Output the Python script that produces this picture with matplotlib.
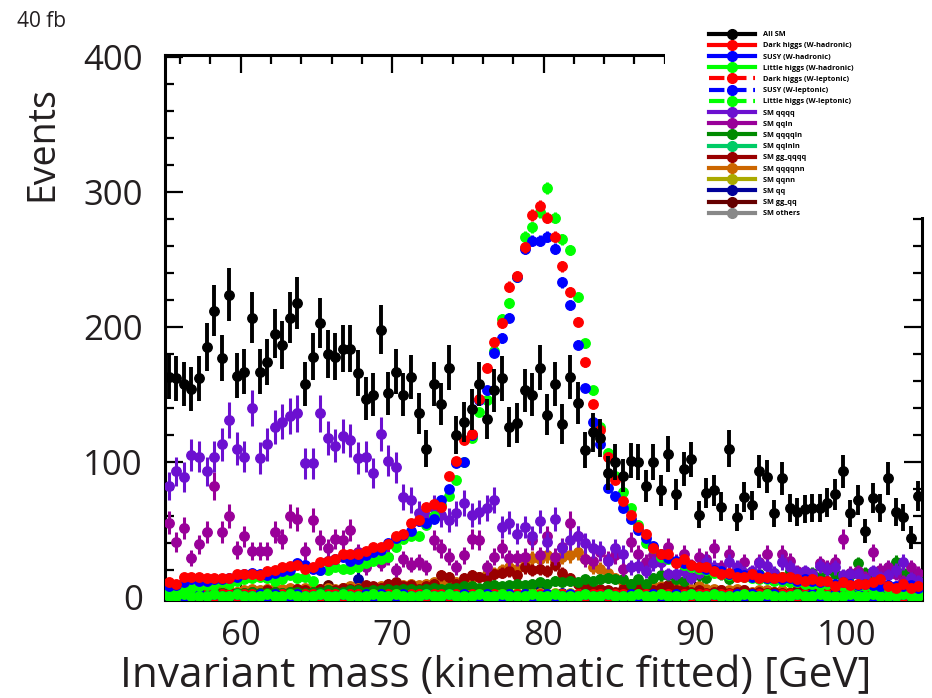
import numpy as np
import matplotlib.pyplot as plt
from matplotlib.lines import Line2D
from matplotlib.patches import Rectangle
from matplotlib.ticker import MultipleLocator

plt.rcParams['font.family'] = ['Open Sans', 'DejaVu Sans']
ink = '#231f20'

# bin centres, 0.5 GeV bins from 55 to 105 GeV
mass = np.arange(55.25, 105.0, 0.5)

all_sm = [163, 162, 158, 154, 162, 185, 212, 177, 224, 164, 167, 207, 167, 174, 195, 187, 207, 218, 158, 178,
          203, 180, 178, 184, 184, 166, 147, 150, 198, 151, 167, 150, 163, 136, 110, 158, 143, 170, 120, 130,
          139, 158, 132, 153, 162, 126, 129, 153, 150, 170, 135, 158, 128, 163, 144, 109, 122, 118, 92, 100,
          90, 101, 100, 82, 100, 79, 106, 76, 95, 102, 61, 77, 79, 67, 110, 59, 74, 68, 93, 89,
          62, 88, 66, 63, 65, 66, 66, 70, 76, 93, 62, 72, 49, 73, 66, 88, 63, 59, 44, 75]

dark_had = [11, 10, 15, 15, 15, 14, 14, 14, 14, 17, 17, 17, 16, 19, 20, 22, 23, 24, 21, 22,
            26, 27, 28, 32, 32, 32, 34, 37, 37, 39, 45, 47, 55, 57, 67, 69, 67, 90, 101, 116,
            121, 147, 170, 189, 203, 230, 238, 259, 283, 290, 281, 267, 245, 226, 204, 174, 143, 124, 104, 87,
            71, 61, 52, 47, 36, 32, 32, 25, 28, 24, 22, 22, 19, 17, 18, 15, 15, 17, 14, 15,
            14, 15, 15, 13, 12, 13, 12, 12, 8, 11, 9, 10, 10, 11, 13, 8, 7, 10, 7, 8]

susy_had = [8, 9, 11, 13, 12, 12, 13, 13, 14, 15, 17, 18, 17, 16, 18, 19, 20, 25, 24, 21,
            20, 27, 28, 30, 27, 28, 31, 33, 35, 40, 44, 46, 49, 56, 55, 58, 72, 80, 99, 100,
            120, 146, 153, 181, 192, 207, 237, 258, 264, 264, 267, 258, 233, 216, 187, 155, 130, 113, 81, 75,
            66, 58, 50, 44, 38, 32, 29, 27, 25, 24, 22, 21, 20, 19, 17, 18, 16, 15, 16, 14,
            14, 13, 14, 12, 13, 12, 11, 12, 10, 11, 10, 9, 10, 9, 8, 9, 8, 8, 9, 7]

little_had = [5, 5, 7, 7, 8, 9, 9, 11, 10, 12, 13, 14, 15, 14, 12, 13, 16, 14, 15, 12,
              20, 20, 22, 21, 21, 22, 25, 27, 28, 30, 37, 43, 45, 45, 53, 60, 68, 75, 87, 100,
              118, 137, 146, 182, 206, 218, 237, 267, 274, 285, 303, 281, 265, 257, 222, 188, 153, 126, 107, 90,
              78, 66, 53, 40, 36, 30, 28, 26, 24, 22, 21, 20, 18, 17, 16, 16, 15, 14, 13, 13,
              12, 12, 11, 11, 10, 10, 9, 10, 9, 8, 9, 8, 8, 7, 8, 7, 7, 6, 7, 6]

dark_lep = [2, 1, 2, 2, 1, 2, 1, 2, 2, 1, 2, 2, 1, 2, 1, 2, 2, 1, 2, 2,
            1, 2, 2, 1, 2, 2, 1, 2, 1, 2, 2, 1, 2, 2, 1, 2, 2, 1, 2, 1,
            2, 2, 1, 2, 2, 1, 2, 1, 2, 2, 1, 2, 2, 1, 2, 1, 2, 2, 1, 2,
            2, 1, 2, 2, 1, 2, 2, 1, 2, 1, 2, 2, 1, 2, 2, 1, 2, 1, 2, 2,
            1, 2, 2, 1, 2, 1, 2, 2, 1, 2, 2, 1, 2, 2, 1, 2, 2, 1, 2, 1]

susy_lep = [1, 2, 1, 1, 2, 1, 2, 1, 1, 2, 1, 1, 2, 1, 2, 1, 1, 2, 1, 1,
            2, 1, 1, 2, 1, 1, 2, 1, 2, 1, 1, 2, 1, 1, 2, 1, 1, 2, 1, 2,
            1, 1, 2, 1, 1, 2, 1, 2, 1, 1, 2, 1, 1, 2, 1, 2, 1, 1, 2, 1,
            1, 2, 1, 1, 2, 1, 1, 2, 1, 2, 1, 1, 2, 1, 1, 2, 1, 2, 1, 1,
            2, 1, 1, 2, 1, 2, 1, 1, 2, 1, 1, 2, 1, 1, 2, 1, 1, 2, 1, 2]

little_lep = [1, 1, 2, 1, 1, 1, 2, 1, 1, 2, 1, 1, 1, 2, 1, 1, 2, 1, 1, 1,
              2, 1, 1, 2, 1, 1, 1, 2, 1, 1, 2, 1, 1, 1, 2, 1, 1, 2, 1, 1,
              1, 2, 1, 1, 2, 1, 1, 1, 2, 1, 1, 2, 1, 1, 1, 2, 1, 1, 2, 1,
              1, 1, 2, 1, 1, 2, 1, 1, 1, 2, 1, 1, 2, 1, 1, 1, 2, 1, 1, 2,
              1, 1, 1, 2, 1, 1, 2, 1, 1, 1, 2, 1, 1, 2, 1, 1, 1, 2, 1, 1]

sm_qqqq = [82, 93, 89, 105, 104, 93, 104, 113, 131, 110, 104, 140, 103, 113, 126, 130, 134, 136, 99, 99,
           136, 118, 112, 119, 116, 103, 104, 92, 121, 101, 96, 74, 72, 62, 60, 66, 61, 57, 62, 70,
           61, 63, 66, 72, 52, 55, 47, 52, 45, 56, 41, 58, 36, 42, 45, 40, 36, 35, 27, 36,
           32, 22, 23, 19, 25, 26, 17, 17, 19, 14, 18, 26, 22, 18, 26, 22, 18, 19, 25, 23,
           18, 26, 22, 18, 19, 17, 23, 21, 22, 16, 17, 17, 13, 19, 15, 16, 20, 26, 14, 12]

sm_qqln = [55, 41, 51, 29, 39, 48, 82, 48, 60, 35, 45, 34, 34, 34, 48, 43, 60, 58, 34, 57,
           42, 36, 43, 42, 50, 33, 22, 33, 25, 30, 20, 28, 24, 26, 22, 42, 36, 30, 22, 31,
           43, 42, 22, 30, 36, 29, 29, 30, 42, 31, 45, 30, 37, 55, 45, 28, 27, 33, 28, 31,
           21, 41, 32, 26, 31, 26, 37, 26, 32, 23, 30, 28, 36, 22, 32, 17, 26, 17, 26, 32,
           17, 32, 27, 19, 13, 15, 25, 22, 26, 43, 18, 19, 15, 33, 20, 22, 17, 12, 22, 18]

sm_qqqqln = [2, 3, 2, 3, 3, 2, 3, 3, 2, 3, 3, 4, 3, 3, 4, 3, 4, 4, 3, 4,
             4, 5, 4, 4, 5, 5, 4, 5, 5, 6, 5, 6, 6, 5, 6, 7, 6, 7, 7, 8,
             8, 7, 8, 9, 8, 9, 10, 9, 10, 11, 10, 12, 11, 12, 11, 13, 12, 13, 14, 13,
             13, 10, 13, 10, 14, 16, 16, 13, 12, 15, 16, 14, 19, 17, 13, 20, 18, 15, 17, 14,
             18, 15, 19, 16, 14, 18, 15, 20, 17, 14, 16, 25, 18, 15, 17, 20, 26, 18, 17, 13]

sm_qqlnln = [1, 1, 0, 1, 1, 1, 0, 1, 1, 1, 1, 0, 1, 1, 1, 1, 0, 1, 1, 1,
             1, 1, 0, 1, 1, 1, 1, 0, 1, 1, 1, 1, 0, 1, 1, 1, 1, 1, 0, 1,
             1, 1, 1, 0, 1, 1, 1, 1, 0, 1, 1, 1, 1, 1, 0, 1, 1, 1, 1, 1,
             1, 1, 1, 1, 1, 1, 1, 1, 1, 1, 1, 1, 1, 1, 1, 1, 1, 1, 1, 1,
             1, 1, 1, 1, 1, 1, 1, 1, 1, 1, 1, 1, 1, 1, 1, 1, 1, 1, 1, 1]

sm_gg_qqqq = [3, 2, 4, 3, 2, 3, 5, 3, 4, 2, 3, 4, 3, 5, 4, 3, 4, 6, 5, 4,
              6, 5, 5, 7, 6, 6, 9, 8, 7, 10, 11, 8, 9, 6, 8, 10, 16, 15, 10, 14,
              16, 15, 14, 17, 18, 19, 16, 22, 20, 21, 19, 24, 18, 14, 10, 8, 5, 6, 5, 4,
              6, 8, 7, 6, 5, 7, 9, 5, 6, 4, 5, 3, 4, 5, 3, 4, 5, 3, 4, 3,
              4, 3, 3, 5, 3, 4, 2, 3, 4, 3, 3, 2, 4, 3, 3, 2, 3, 4, 2, 3]

sm_qqqqnn = [4, 5, 4, 5, 4, 5, 5, 6, 5, 4, 5, 6, 5, 6, 7, 6, 7, 6, 7, 6,
             6, 7, 6, 7, 8, 7, 8, 7, 8, 9, 8, 9, 10, 9, 10, 11, 10, 12, 11, 13,
             14, 15, 17, 18, 20, 22, 21, 24, 29, 28, 31, 27, 30, 31, 33, 28, 22, 21, 18, 14,
             11, 10, 9, 9, 8, 8, 7, 9, 7, 6, 8, 6, 6, 5, 5, 6, 5, 4, 5, 5,
             4, 5, 4, 4, 5, 3, 4, 4, 3, 4, 3, 4, 3, 3, 4, 3, 3, 4, 3, 3]

sm_qqnn = [4, 3, 4, 3, 5, 4, 3, 4, 5, 4, 3, 5, 4, 6, 5, 4, 5, 4, 3, 5,
           4, 6, 5, 7, 5, 4, 5, 3, 4, 3, 4, 3, 3, 4, 3, 3, 4, 3, 3, 2,
           3, 3, 2, 3, 3, 2, 3, 2, 3, 3, 2, 3, 2, 3, 2, 3, 2, 2, 3, 2,
           2, 3, 2, 2, 3, 2, 2, 2, 3, 2, 2, 2, 3, 2, 2, 2, 2, 3, 2, 2,
           2, 2, 2, 3, 2, 2, 2, 2, 2, 2, 3, 2, 2, 2, 2, 2, 2, 2, 3, 2]

sm_qq = [2, 1, 2, 1, 3, 8, 2, 1, 2, 3, 1, 2, 3, 2, 1, 2, 3, 2, 1, 2,
         2, 3, 1, 2, 4, 13, 2, 3, 1, 2, 2, 1, 3, 2, 1, 4, 2, 1, 2, 3,
         1, 2, 2, 1, 3, 2, 1, 2, 2, 6, 1, 2, 3, 1, 2, 2, 1, 3, 2, 1,
         2, 6, 1, 2, 2, 3, 1, 2, 8, 1, 2, 2, 1, 3, 2, 1, 2, 2, 1, 2,
         3, 1, 2, 2, 1, 2, 3, 1, 2, 2, 1, 2, 2, 1, 3, 2, 1, 2, 2, 8]

sm_gg_qq = [1, 2, 1, 1, 2, 1, 1, 2, 1, 1, 2, 1, 1, 2, 1, 1, 2, 1, 1, 2,
            1, 9, 1, 2, 1, 1, 2, 1, 1, 2, 1, 1, 2, 1, 1, 2, 1, 1, 2, 1,
            1, 2, 1, 1, 2, 1, 1, 2, 1, 1, 2, 1, 1, 2, 1, 1, 2, 1, 1, 2,
            1, 1, 2, 1, 1, 2, 1, 1, 2, 1, 1, 2, 1, 1, 2, 1, 1, 2, 1, 1,
            2, 1, 1, 2, 1, 1, 2, 1, 1, 2, 1, 1, 2, 1, 1, 2, 1, 1, 2, 1]

sm_others = [1, 1, 1, 0, 1, 1, 1, 1, 0, 1, 1, 1, 1, 0, 1, 1, 1, 1, 0, 1,
             1, 1, 1, 0, 1, 1, 1, 1, 0, 1, 1, 1, 1, 0, 1, 1, 1, 1, 0, 1,
             1, 1, 1, 0, 1, 1, 1, 1, 0, 1, 1, 1, 1, 0, 1, 1, 1, 1, 0, 1,
             1, 1, 1, 0, 1, 1, 1, 1, 0, 1, 1, 1, 1, 0, 1, 1, 1, 1, 0, 1,
             1, 1, 1, 0, 1, 1, 1, 1, 0, 1, 1, 1, 1, 0, 1, 1, 1, 1, 0, 1]

# label, counts, colour, legend line style, error scale
series = [
    ('All SM', all_sm, 'black', '-', 1.3),
    ('Dark higgs (W-hadronic)', dark_had, '#ff0000', '-', 0.25),
    ('SUSY (W-hadronic)', susy_had, '#0000ff', '-', 0.25),
    ('Little higgs (W-hadronic)', little_had, '#00ff00', '-', 0.25),
    ('Dark higgs (W-leptonic)', dark_lep, '#ff0000', '--', 0.5),
    ('SUSY (W-leptonic)', susy_lep, '#0000ff', '--', 0.5),
    ('Little higgs (W-leptonic)', little_lep, '#00ff00', '--', 0.5),
    ('SM qqqq', sm_qqqq, '#6c10d0', '-', 1.15),
    ('SM qqln', sm_qqln, '#990099', '-', 1.15),
    ('SM qqqqln', sm_qqqqln, '#008a00', '-', 1.0),
    ('SM qqlnln', sm_qqlnln, '#00cc66', '-', 1.0),
    ('SM gg_qqqq', sm_gg_qqqq, '#990000', '-', 1.0),
    ('SM qqqqnn', sm_qqqqnn, '#cc6600', '-', 1.0),
    ('SM qqnn', sm_qqnn, '#aaaa00', '-', 1.0),
    ('SM qq', sm_qq, '#000099', '-', 1.6),
    ('SM gg_qq', sm_gg_qq, '#660000', '-', 1.0),
    ('SM others', sm_others, '#888888', '-', 1.0),
]

fig = plt.figure(figsize=(9.32, 6.98), dpi=100)
ax = fig.add_axes([165/932, 98/698, 757/932, 545/698])

# backgrounds first, then signals, the SM total on top
order = list(range(7, 17))[::-1] + [4, 5, 6, 3, 2, 1, 0]
for k, i in enumerate(order):
    name, vals, col, ls, es = series[i]
    v = np.array(vals, dtype=float)
    ax.errorbar(mass, v, yerr=es*np.sqrt(v), fmt='o', color=col, mec=col,
                ms=6.8, elinewidth=2.8 if i == 0 else 2.2, capsize=0, zorder=2+k)

ax.set_xlim(55, 105)
ax.set_ylim(-2.2, 401.5)
ax.xaxis.set_major_locator(MultipleLocator(10))
ax.xaxis.set_minor_locator(MultipleLocator(2))
ax.yaxis.set_major_locator(MultipleLocator(100))
ax.yaxis.set_minor_locator(MultipleLocator(20))
ax.tick_params(which='both', direction='in', top=True, right=True, width=1.6,
               labelsize=25, labelcolor=ink)
ax.tick_params(which='major', length=13)
ax.tick_params(which='minor', length=6.5)
ax.tick_params(axis='x', pad=14)
ax.tick_params(axis='y', pad=16)
for s in ax.spines.values():
    s.set_linewidth(2.2)

fig.text(120/932, 1-676/698, 'Invariant mass (kinematic fitted) [GeV]',
         fontsize=30.5, color=ink, ha='left', va='center')
fig.text(42/932, 1-201/698, 'Events', fontsize=27, color=ink,
         rotation=90, ha='center', va='bottom')
fig.text(17/932, 1-27/698, '40 fb', fontsize=15, color=ink, va='baseline')

# white box behind the legend hides the frame corner
fig.add_artist(Rectangle((665/932, 1-217/698), 1, 1, transform=fig.transFigure,
                         facecolor='white', edgecolor='none', zorder=3))

handles = [Line2D([], [], color=c, ls=ls, lw=3, marker='o', ms=7, mec=c)
           for _, _, c, ls, _ in series]
labels = [s[0] for s in series]
leg = fig.legend(handles, labels, loc='upper left', bbox_to_anchor=(709/932, 1-31/698),
                 frameon=False, prop={'size': 5.3, 'weight': 'bold'}, handlelength=6.2,
                 handletextpad=1.1, labelspacing=0.55, borderpad=0, borderaxespad=0)
leg.set_zorder(5)

fig.savefig('out.png', dpi=100)
